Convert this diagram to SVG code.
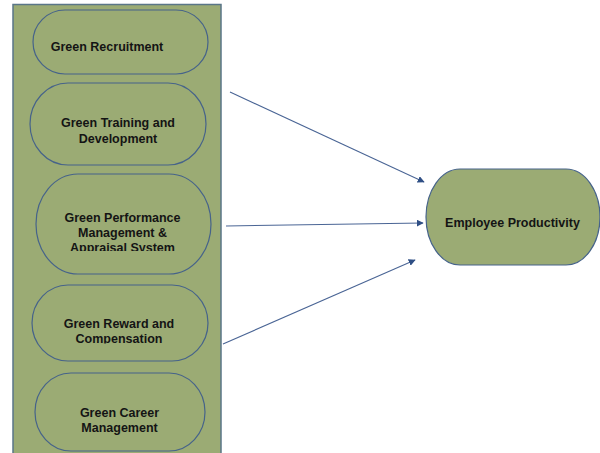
<svg xmlns="http://www.w3.org/2000/svg" width="600" height="453" viewBox="0 0 600 453">
<defs>
<style>
.panel{fill:#9bab74;stroke:#5a7688;stroke-width:1.5}
.pill{fill:#9bab74;stroke:#46638a;stroke-width:1.2}
.lbl{font-family:"Liberation Sans",Arial,sans-serif;font-weight:bold;font-size:12.5px;fill:#141414;text-anchor:middle}
.conn{stroke:#4a6595;stroke-width:1.1;fill:none}
</style>
<marker id="ah" viewBox="0 0 10 10" refX="9" refY="5" markerWidth="7" markerHeight="7" markerUnits="userSpaceOnUse" orient="auto">
<path d="M0,0 L10,5 L0,10 z" fill="#2f4f85"/>
</marker>
<clipPath id="c3"><rect x="0" y="170" width="240" height="81"/></clipPath>
<clipPath id="c4"><rect x="0" y="280" width="240" height="63.5"/></clipPath>
</defs>
<rect width="600" height="453" fill="#ffffff"/>
<rect class="panel" x="13" y="4.5" width="208" height="455"/>
<g id="n1">
<rect class="pill" x="33" y="10" width="175" height="64" rx="32" ry="32"/>
<text class="lbl" x="107" y="51">Green Recruitment</text>
</g>
<g id="n2">
<rect class="pill" x="30" y="83" width="176" height="82" rx="38" ry="41"/>
<text class="lbl" x="118" y="127">Green Training and</text>
<text class="lbl" x="118" y="143">Development</text>
</g>
<g id="n3">
<rect class="pill" x="36" y="174" width="175" height="100" rx="42" ry="50"/>
<g clip-path="url(#c3)">
<text class="lbl" x="122.5" y="222">Green Performance</text>
<text class="lbl" x="122.5" y="237">Management &amp;</text>
<text class="lbl" x="122.5" y="252">Appraisal System</text>
</g>
</g>
<g id="n4">
<rect class="pill" x="32" y="285" width="176" height="76" rx="36" ry="38"/>
<g clip-path="url(#c4)">
<text class="lbl" x="119" y="328">Green Reward and</text>
<text class="lbl" x="119" y="342.5">Compensation</text>
</g>
</g>
<g id="n5">
<rect class="pill" x="35" y="373" width="170" height="78" rx="36" ry="39"/>
<text class="lbl" x="119.5" y="417">Green Career</text>
<text class="lbl" x="119.5" y="432">Management</text>
</g>
<g id="n6">
<rect class="pill" x="426" y="169" width="174" height="96" rx="34" ry="48"/>
<text class="lbl" x="512.5" y="227">Employee Productivity</text>
</g>
<g id="connectors">
<line class="conn" x1="230" y1="92" x2="424" y2="182" marker-end="url(#ah)"/>
<line class="conn" x1="226" y1="226" x2="423" y2="223" marker-end="url(#ah)"/>
<line class="conn" x1="223" y1="344" x2="415" y2="260" marker-end="url(#ah)"/>
</g>
</svg>
